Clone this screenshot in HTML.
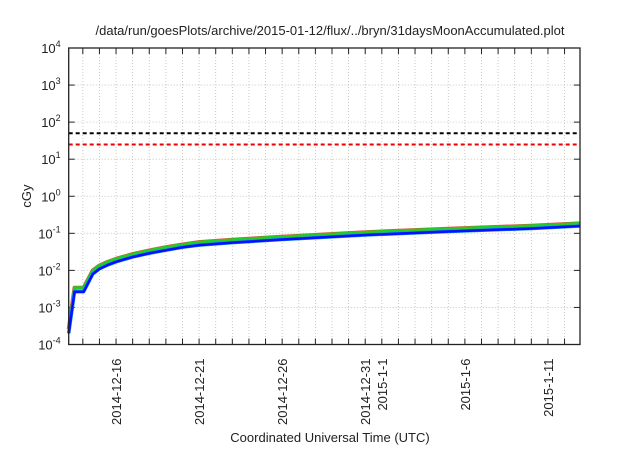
<!DOCTYPE html>
<html><head><meta charset="utf-8"><style>
body{margin:0;background:#fff;font-family:"Liberation Sans",sans-serif}
svg text{font-family:"Liberation Sans",sans-serif;fill:#222}
</style></head><body>
<svg id="c" width="640" height="448">
<text x="330" y="35" font-size="13" text-anchor="middle">/data/run/goesPlots/archive/2015-01-12/flux/../bryn/31daysMoonAccumulated.plot</text>
<text x="330" y="442" font-size="13" text-anchor="middle">Coordinated Universal Time (UTC)</text>
<text x="0" y="0" font-size="13" text-anchor="middle" transform="translate(31,196) rotate(-90)">cGy</text>
<g id="grid"></g><g id="ax"></g><g id="series"></g>
<rect x="68.7" y="48" width="511.3" height="296.5" fill="none" stroke="#222" stroke-width="1.3"/>
</svg>
<script>
const yTicks=[-4,-3,-2,-1,0,1,2,3,4];
const xTickDays=[16,21,26,31,32,37,42];
const xTickLabels=["2014-12-16","2014-12-21","2014-12-26","2014-12-31","2015-1-1","2015-1-6","2015-1-11"];
const days=[13.15,13.5,14.05,14.6,15.0,15.5,16,17,18,19,20,21,23,26,31,36,41,43.93];
const blueVals=[2e-4,2.65e-3,2.65e-3,8e-3,1.1e-2,1.4e-2,1.7e-2,2.3e-2,2.9e-2,3.5e-2,4.2e-2,4.8e-2,5.6e-2,6.8e-2,9.0e-2,1.12e-1,1.35e-1,1.58e-1];
const greenVals=[2.6e-4,3.4e-3,3.4e-3,1.0e-2,1.35e-2,1.7e-2,2.05e-2,2.75e-2,3.45e-2,4.2e-2,5.0e-2,5.8e-2,6.7e-2,8.1e-2,1.07e-1,1.33e-1,1.6e-1,1.86e-1];
const thresholds=[50,25];
const L=68.7,R=580,T=48,B=344.5,D0=13.15,D1=43.93;
const xs=d=>L+(d-D0)/(D1-D0)*(R-L);
const ys=v=>T+(4-Math.log10(v))/8*(B-T);
const NS="http://www.w3.org/2000/svg";
function mk(t,a,p){const e=document.createElementNS(NS,t);for(const k in a)e.setAttribute(k,a[k]);p.appendChild(e);return e;}
const g=document.getElementById('grid'),ax=document.getElementById('ax'),s=document.getElementById('series');
for(let d=14;d<=43;d++){const x=xs(d);
const l=mk('line',{x1:x,x2:x,y1:T,y2:B,stroke:'#bbb','stroke-dasharray':'1,2','stroke-width':0.8},g);


mk('line',{x1:x,x2:x,y1:B,y2:B-6,stroke:'#222'},ax);mk('line',{x1:x,x2:x,y1:T,y2:T+6,stroke:'#222'},ax);}
yTicks.forEach(p=>{const y=ys(Math.pow(10,p));
if(p>-4&&p<4){const l=mk('line',{x1:L,x2:R,y1:y,y2:y,stroke:'#bbb','stroke-dasharray':'1,2','stroke-width':0.8},g);

}
mk('line',{x1:L,x2:L+6,y1:y,y2:y,stroke:'#222'},ax);mk('line',{x1:R,x2:R-6,y1:y,y2:y,stroke:'#222'},ax);
const t=mk('text',{x:L-8,y:y+5,'font-size':13,'text-anchor':'end'},ax);


t.textContent='10';const sp=mk('tspan',{dy:-6,'font-size':9},t);sp.textContent=String(p);});
xTickDays.forEach((d,i)=>{const x=xs(d);
const t=mk('text',{'font-size':13,'text-anchor':'end',transform:`translate(${x+5},${B+14}) rotate(-90)`},ax);


t.textContent=xTickLabels[i];});
const cols=['#000','#e00'];
thresholds.forEach((v,i)=>{const y=ys(v);
const l=mk('line',{x1:L,x2:R,y1:y,y2:y,stroke:cols[i],'stroke-width':2,'stroke-dasharray':'4,3'},s);

});
function line(vals,col,w,name){const pts=days.map((d,i)=>xs(d)+','+ys(vals[i])).join(' ');
const p=mk('polyline',{points:pts,fill:'none',stroke:col,'stroke-width':w,'stroke-linejoin':'round'},s);

}
line(greenVals,'#e44',4,'series-red');
line(greenVals,'#2c2',3,'series-green');
line(blueVals,'#1a8cff',3.5,'series-cyan');
line(blueVals,'#0010ff',2.5,'series-blue');
</script>
</body></html>
